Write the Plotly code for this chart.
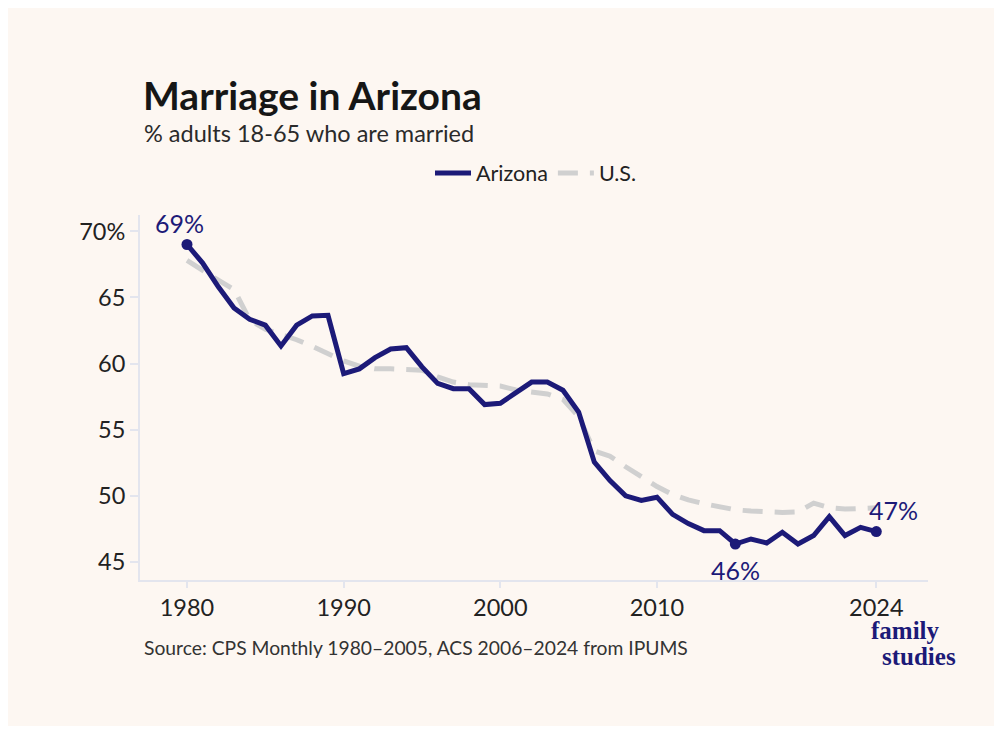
import plotly.graph_objects as go

years = list(range(1980, 2025))
arizona = [69.0, 67.6, 65.8, 64.2, 63.35, 62.9, 61.33, 62.9, 63.6, 63.65,
           59.24, 59.6, 60.45, 61.1, 61.2, 59.75, 58.5, 58.1, 58.1, 56.9,
           57.0, 57.85, 58.6, 58.6, 57.98, 56.33, 52.55, 51.16, 50.0, 49.65,
           49.9, 48.6, 47.9, 47.37, 47.37, 46.36, 46.74, 46.44, 47.25, 46.36,
           47.0, 48.43, 47.0, 47.62, 47.3]
us = [67.8, 67.0, 66.3, 65.6, 63.3, 62.6, 62.2, 61.8, 61.3, 60.7,
      60.2, 59.8, 59.6, 59.6, 59.55, 59.5, 59.0, 58.6, 58.4, 58.35,
      58.3, 58.0, 57.85, 57.7, 57.3, 56.0, 53.4, 53.0, 52.2, 51.4,
      50.7, 50.1, 49.7, 49.4, 49.2, 48.95, 48.85, 48.8, 48.75, 48.8,
      49.45, 49.1, 49.0, 49.05, 49.1]
x_ticks = [1980, 1990, 2000, 2010, 2024]
y_ticks = [45, 50, 55, 60, 65, 70]
y_ticktext = ["45", "50", "55", "60", "65", "70%"]
highlight_years = [1980, 2015, 2024]

NAVY = "#1c1a78"
GRAY = "#d0d0d0"
CREAM = "#fdf7f2"
AXIS = "#e3e5ee"
FONT = "Lato"

W, H = 994, 718
L, R, T, B = 132, 74, 207, 146
PW, PH = W - L - R, H - T - B

def px(fx):
    return (fx - L) / PW

def py(fy):
    return (H - B - fy) / PH

fig = go.Figure()
fig.add_trace(go.Scatter(x=years, y=us, mode="lines", name="U.S.",
                         line=dict(color=GRAY, width=5, dash="20px,12px")))
fig.add_trace(go.Scatter(x=years, y=arizona, mode="lines", name="Arizona",
                         line=dict(color=NAVY, width=5)))
hx = highlight_years
hy = [arizona[years.index(y)] for y in hx]
fig.add_trace(go.Scatter(x=hx, y=hy, mode="markers", showlegend=False,
                         marker=dict(color=NAVY, size=11)))

label_style = dict(showarrow=False, font=dict(family=FONT, size=25, color=NAVY))
fig.add_annotation(x=hx[0], y=hy[0], text=f"{round(hy[0])}%", yshift=22, xshift=-8, **label_style)
fig.add_annotation(x=hx[1], y=hy[1], text=f"{round(hy[1])}%", yshift=-26, **label_style)
fig.add_annotation(x=hx[2], y=hy[2], text=f"{round(hy[2])}%", yshift=22, xshift=17, **label_style)

# title / subtitle / source / logo
fig.add_annotation(xref="paper", yref="paper", x=px(133), y=py(87), xanchor="left", yanchor="middle",
                   text="<b>Marriage in Arizona</b>", showarrow=False,
                   font=dict(family=FONT, size=39, color="#161616"))
fig.add_annotation(xref="paper", yref="paper", x=px(134), y=py(125), xanchor="left", yanchor="middle",
                   text="% adults 18-65 who are married", showarrow=False,
                   font=dict(family=FONT, size=23.5, color="#2a2a2a"))
fig.add_annotation(xref="paper", yref="paper", x=px(134), y=py(639), xanchor="left", yanchor="middle",
                   text="Source: CPS Monthly 1980–2005, ACS 2006–2024 from IPUMS", showarrow=False,
                   font=dict(family=FONT, size=19.3, color="#333333"))
fig.add_annotation(xref="paper", yref="paper", x=px(897), y=py(622), xanchor="center", yanchor="middle",
                   text="<b>family</b>", showarrow=False,
                   font=dict(family="Liberation Serif", size=25, color=NAVY))
fig.add_annotation(xref="paper", yref="paper", x=px(911), y=py(648), xanchor="center", yanchor="middle",
                   text="<b>studies</b>", showarrow=False,
                   font=dict(family="Liberation Serif", size=25, color=NAVY))

fig.update_layout(
    width=W, height=H,
    margin=dict(l=L, r=R, t=T, b=B, pad=0),
    paper_bgcolor=CREAM, plot_bgcolor=CREAM,
    font=dict(family=FONT, color="#222222"),
    showlegend=True,
    legend=dict(orientation="h", x=px(528), xanchor="center", y=py(165), yanchor="middle",
                traceorder="reversed", font=dict(family=FONT, size=21.5, color="#222222"),
                bgcolor="rgba(0,0,0,0)", itemwidth=36),
    xaxis=dict(range=[1977.0, 2027.3], tickvals=x_ticks, showgrid=False, zeroline=False,
               showline=True, linecolor=AXIS, linewidth=2, ticks="outside", ticklen=6,
               tickcolor=AXIS, tickwidth=2, tickfont=dict(family=FONT, size=23.5, color="#222222")),
    yaxis=dict(range=[43.64, 71.23], tickvals=y_ticks, ticktext=y_ticktext, showgrid=False,
               zeroline=False, showline=True, linecolor=AXIS, linewidth=2, ticks="outside",
               ticklen=8, tickcolor=AXIS, tickwidth=2,
               tickfont=dict(family=FONT, size=23.5, color="#222222")),
)

fig.write_html("out.html")
